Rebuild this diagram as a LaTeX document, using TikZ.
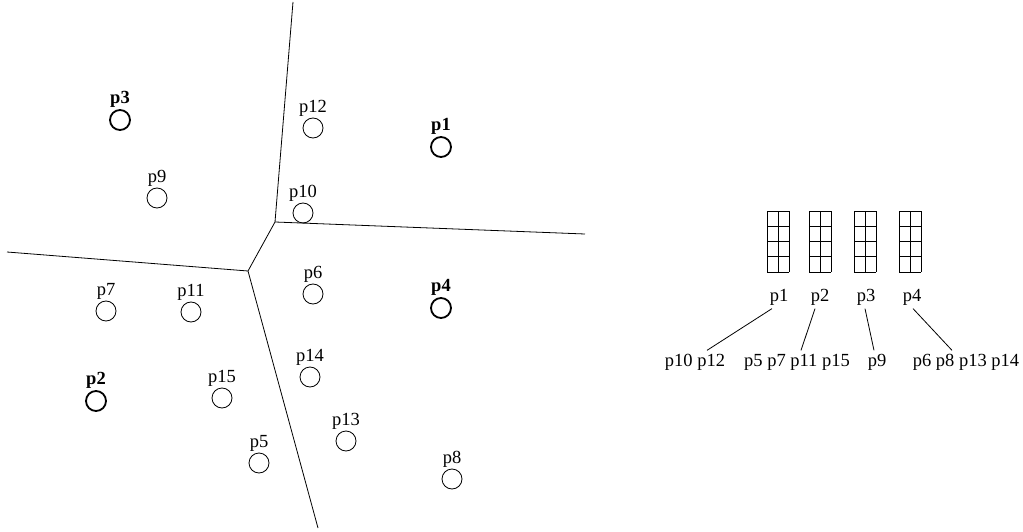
\documentclass[tikz,border=0pt]{standalone}
\usepackage{fontspec}
\setmainfont{Liberation Serif}
\usetikzlibrary{positioning}
\newcommand{\txtsize}{\fontsize{18.5}{20}\selectfont}
\begin{document}
\begin{tikzpicture}[x=1pt, y=-1pt, font=\txtsize,
  pt/.style={draw, circle, minimum size=20pt, inner sep=0pt, line width=0.8pt},
  site/.style={pt, line width=1.8pt},
  lbl/.style={inner sep=1pt},
  blbl/.style={lbl, font=\txtsize\bfseries},
  edge/.style={line width=0.8pt}]
  \useasboundingbox (0,0) rectangle (1023,532);
  % sites
  \node[site, label={[blbl]above:p1}] (p1) at (441,147) {};
  \node[site, label={[blbl]above:p2}] (p2) at (96,401) {};
  \node[site, label={[blbl]above:p3}] (p3) at (120,120) {};
  \node[site, label={[blbl]above:p4}] (p4) at (441,308) {};
  % points
  \foreach \n/\x/\y in {5/259/463, 6/313/294, 7/106/311, 8/452/479, 9/157/198, 10/303/213,
    11/191/312, 12/313/128, 13/346/441, 14/310/377, 15/222/398}
    \node[pt, label={[lbl]above:p\n}] (p\n) at (\x,\y) {};
  % cells
  \coordinate (va) at (275,222); \coordinate (vb) at (248,271);
  \coordinate (ct) at (293,2); \coordinate (cr) at (585,234);
  \coordinate (cl) at (7,252); \coordinate (cb) at (318,528);
  \draw[edge] (ct) -- (va) -- (cr);
  \draw[edge] (va) -- (vb) -- (cl);
  \draw[edge] (vb) -- (cb);
  % buckets
  \foreach \gx in {767,809,854,899}
    \draw[edge, shift={(\gx,211)}, y=1pt] (0,0) grid[xstep=11, ystep=15.25] (22,-61.01);
  \node (k1) at (779,297) {p1}; \node (k2) at (820,297) {p2};
  \node (k3) at (866,297) {p3}; \node (k4) at (912,297) {p4};
  \node (l1) at (695,362) {p10 p12}; \node (l2) at (797,362) {p5 p7 p11 p15};
  \node (l3) at (877,362) {p9}; \node (l4) at (966,362) {p6 p8 p13 p14};
  \draw[edge] ([xshift=-7pt]k1.south) -- ([xshift=12pt]l1.north);
  \draw[edge] ([xshift=-5pt]k2.south) -- ([xshift=4pt]l2.north);
  \draw[edge] ([xshift=-1pt]k3.south) -- ([xshift=-3pt]l3.north);
  \draw[edge] ([xshift=1pt]k4.south) -- ([xshift=-14pt]l4.north);
\end{tikzpicture}
\end{document}
